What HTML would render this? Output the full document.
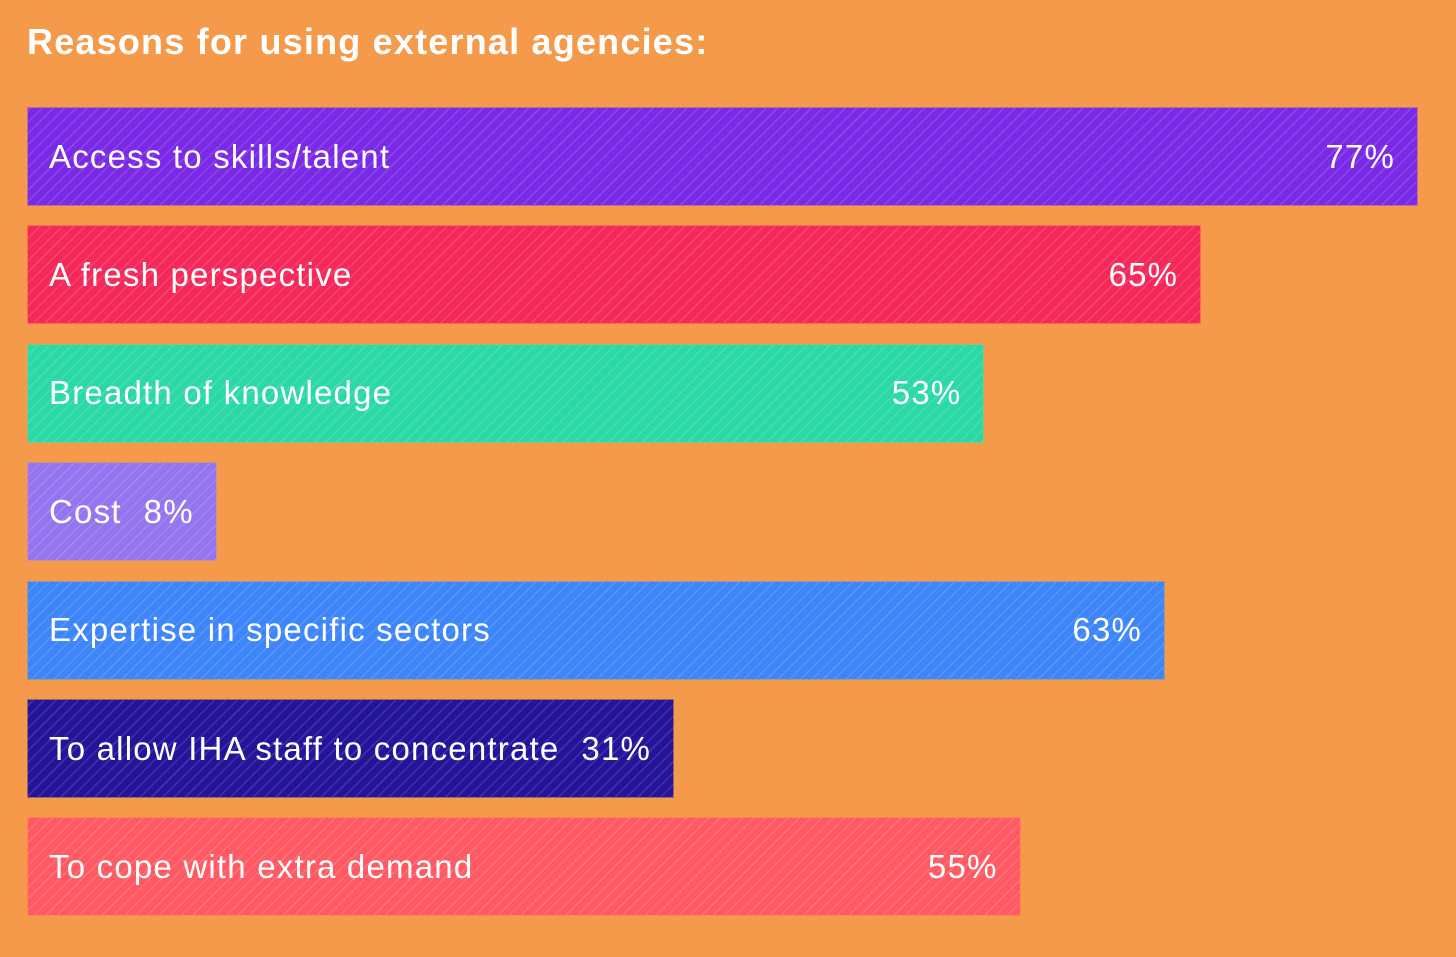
<!DOCTYPE html>
<html><head><meta charset="utf-8"><style>
html,body{margin:0;padding:0}
body{width:1456px;height:957px;background:#f5994a;position:relative;overflow:hidden;font-family:"Liberation Sans","DejaVu Sans",sans-serif}
#title{position:absolute;left:27px;top:21px;color:#fff;font-size:36px;font-weight:bold;letter-spacing:1.2px}
.bar{position:absolute;left:27px;height:99px;display:flex;align-items:center;box-sizing:border-box;padding:0 22px 0 21px;color:#fff;font-size:33px;letter-spacing:1.2px;min-width:max-content;
background-image:repeating-linear-gradient(-45deg,rgba(255,255,255,0.13) 0 1.5px,transparent 1.5px 8px);border:1px solid rgba(255,170,60,0.5)}
.bar .val{margin-left:auto;padding-left:22px}
</style></head><body>
<div id="title">Reasons for using external agencies:</div>
<div id="chart"></div>
<script>
const categories=["Access to skills/talent","A fresh perspective","Breadth of knowledge","Cost","Expertise in specific sectors","To allow IHA staff to concentrate","To cope with extra demand"];
const values=[77,65,53,8,63,31,55];
const labels=["77%","65%","53%","8%","63%","31%","55%"];
const colors=["#7a2ae6","#f5285a","#2ad8a8","#9574f0","#3d85f8","#24149a","#ff5a64"];
const maxV=77, maxW=1391;
function xScale(v){return v/maxV*maxW;}
function yPos(i){return 107+i*118.4;}
const chart=document.getElementById('chart');
categories.forEach((c,i)=>{
  const b=document.createElement('div');
  b.className='bar';
  
  
  b.style.top=yPos(i)+'px';
  b.style.width=xScale(values[i])+'px';
  b.style.backgroundColor=colors[i];
  const l=document.createElement('span');
  
  
  l.textContent=c;
  const v=document.createElement('span');
  v.className='val';
  
  
  v.textContent=labels[i];
  b.appendChild(l);b.appendChild(v);
  chart.appendChild(b);
});
</script>
</body></html>
